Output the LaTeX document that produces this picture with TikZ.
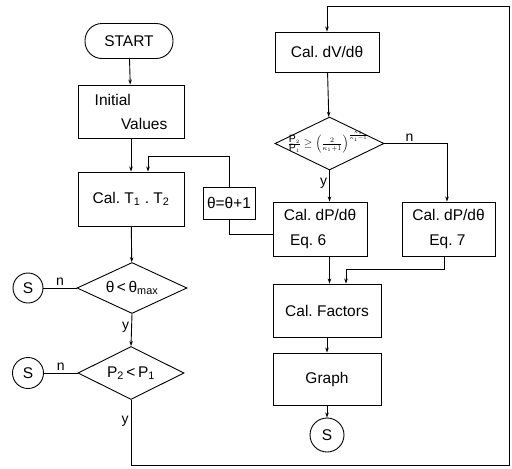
\documentclass[tikz,border=0pt]{standalone}
\usepackage{fontspec}
\setmainfont{Liberation Sans}
\usetikzlibrary{shapes.geometric,arrows.meta}
\begin{document}
\begin{tikzpicture}[x=1pt,y=-1pt,
  line width=0.9pt,
  every node/.style={font=\fontsize{15.5}{17}\selectfont},
  box/.style={draw,rectangle,inner sep=0pt},
  dia/.style={draw,diamond,inner sep=0pt},
  conn/.style={draw,circle,inner sep=0pt},
  arr/.style={-{Stealth[length=5pt,width=3.5pt]}},
  lbl/.style={font=\fontsize{14}{15}\selectfont,inner sep=2pt}]
\useasboundingbox (0,0) rectangle (512,469);

% left column
\node[draw,rounded corners=17pt,minimum width=88pt,minimum height=35pt,inner sep=0pt] (start) at (129,41) {START};
\node[box,minimum width=106pt,minimum height=53pt,align=left,font=\fontsize{15.5}{24}\selectfont] (init) at (131,111.5) {Initial\\\hspace*{1.7em}Values};
\node[box,minimum width=106pt,minimum height=54pt] (calT) at (131,199) {Cal.\ T\textsubscript{1} .\ T\textsubscript{2}};
\node[box,minimum width=52pt,minimum height=32pt] (inc) at (229,203) {θ=θ+1};
\node[dia,minimum width=110pt,minimum height=51pt] (d1) at (132,288) {};
\node (d1t) at (d1.center) {θ\,<\,θ\textsubscript{max}};
\node[dia,minimum width=106pt,minimum height=53pt] (d2) at (131,373) {};
\node (d2t) at (d2.center) {P\textsubscript{2}\,<\,P\textsubscript{1}};
\node[conn,minimum size=30pt] (s1) at (28,288) {S};
\node[conn,minimum size=31pt] (s2) at (28,373) {S};

% right column
\node[box,minimum width=104pt,minimum height=40pt] (dV) at (327,52) {Cal.\ dV/dθ};
\node[dia,minimum width=109pt,minimum height=53pt] (d3) at (329.5,143.5) {};
\node[font=\fontsize{10.5}{11}\selectfont,inner sep=0pt] (d3t) at (328,142) {$\frac{\mbox{P}_2}{\mbox{P}_1}\geq\Bigl(\frac{2}{\kappa_1+1}\Bigr)^{\frac{\kappa_1}{\kappa_1-1}}$};
\node[box,minimum width=94pt,minimum height=54pt,align=left,font=\fontsize{15.5}{25}\selectfont] (dP6) at (320,229) {Cal.\ dP/dθ\\\hspace*{0.4em}Eq.\ 6};
\node[box,minimum width=93pt,minimum height=54pt,align=left,font=\fontsize{15.5}{25}\selectfont] (dP7) at (448.5,229) {Cal.\ dP/dθ\\\hspace*{1.1em}Eq.\ 7};
\node[box,minimum width=108pt,minimum height=53pt] (fac) at (327,310.5) {Cal.\ Factors};
\node[box,minimum width=108pt,minimum height=52pt] (graph) at (327,379) {Graph};
\node[conn,minimum size=34pt] (s3) at (327,435) {S};

% helper coordinates
\coordinate (bl) at (131,465);
\coordinate (br) at (509,465);
\coordinate (tr) at (509,6);
\coordinate (tl) at (327,6);
\coordinate (lt) at (148,156);
\coordinate (rt) at (229,156);
\coordinate (incb) at (229,234);
\coordinate (n7) at (447,143.5);
\coordinate (j7) at (444,269);
\coordinate (j6) at (346,269);

% connectors
\draw[arr] (start) -- (init);
\draw[arr] (init) -- (calT);
\draw[arr] (calT) -- (d1);
\draw[arr] (d1.south) -- node[lbl,left,pos=0.4] (y1) {y} (d2.north);
\draw (d1.west) -- node[lbl,above] (n1) {n} (s1.east);
\draw (d2.west) -- node[lbl,above] (n2) {n} (s2.east);
\draw[arr] (d2.south) -- node[lbl,left,pos=0.33] (y2) {y} (bl) -- (br) -- (tr) -- (tl) -- (dV.north);
\draw[arr] (dV) -- (d3);
\draw[arr] (d3.south) -- node[lbl,left,pos=0.4] (y3) {y} (d3.south |- dP6.north);
\draw[arr] (d3.east) -- node[lbl,above,pos=0.4] (n3) {n} (n7) -- (n7 |- dP7.north);
\draw[arr] (inc.north) -- (rt) -- (lt) -- (lt |- calT.north);
\draw (inc.south) -- (incb) -- (incb -| dP6.west);
\draw[arr] (dP6.south -| d3.south) -- (d3.south |- fac.north);
\draw[arr] (j7 |- dP7.south) -- (j7) -- (j6) -- (j6 |- fac.north);
\draw[arr] (fac) -- (graph);
\draw[arr] (graph) -- (s3);
\end{tikzpicture}
\end{document}
